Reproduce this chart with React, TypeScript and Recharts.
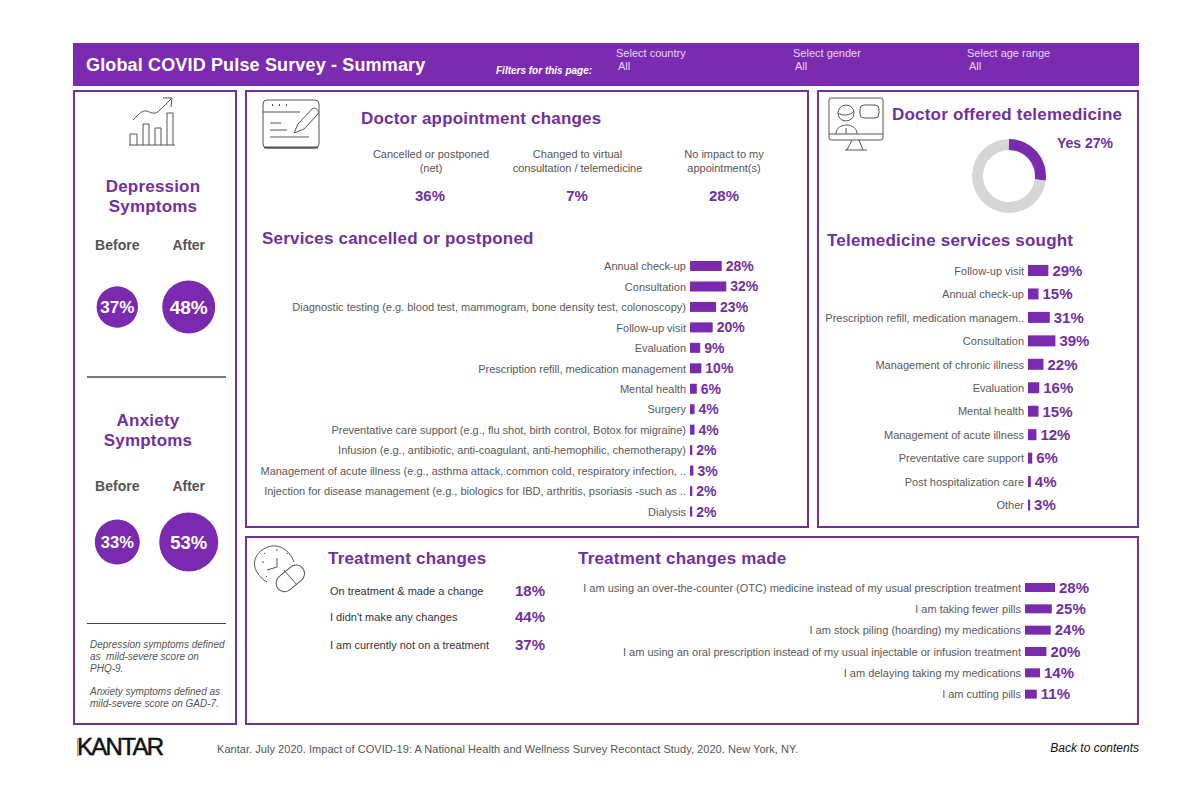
import { BarChart, Bar, XAxis, YAxis, LabelList, PieChart, Pie, Cell, ScatterChart, Scatter, ZAxis } from 'recharts'

const PURPLE = '#7a2aae'
const BORDER = '#6f3296'
const TITLE = '#7030a0'
const FONT = '"Liberation Sans", Arial, sans-serif'

const serviceLabels = [
  'Annual check-up',
  'Consultation',
  'Diagnostic testing (e.g. blood test, mammogram, bone density test, colonoscopy)',
  'Follow-up visit',
  'Evaluation',
  'Prescription refill, medication management',
  'Mental health',
  'Surgery',
  'Preventative care support (e.g., flu shot, birth control, Botox for migraine)',
  'Infusion (e.g., antibiotic, anti-coagulant, anti-hemophilic, chemotherapy)',
  'Management of acute illness (e.g., asthma attack, common cold, respiratory infection, ..',
  'Injection for disease management (e.g., biologics for IBD, arthritis, psoriasis -such as ..',
  'Dialysis',
]
const serviceValues = [28, 32, 23, 20, 9, 10, 6, 4, 4, 2, 3, 2, 2]

const teleLabels = [
  'Follow-up visit',
  'Annual check-up',
  'Prescription refill, medication managem..',
  'Consultation',
  'Management of chronic illness',
  'Evaluation',
  'Mental health',
  'Management of acute illness',
  'Preventative care support',
  'Post hospitalization care',
  'Other',
]
const teleValues = [29, 15, 31, 39, 22, 16, 15, 12, 6, 4, 3]

const madeLabels = [
  'I am using an over-the-counter (OTC) medicine instead of my usual prescription treatment',
  'I am taking fewer pills',
  'I am stock piling (hoarding) my medications',
  'I am using an oral prescription instead of my usual injectable or infusion treatment',
  'I am delaying taking my medications',
  'I am cutting pills',
]
const madeValues = [28, 25, 24, 20, 14, 11]

const treatmentLabels = ['On treatment & made a change', "I didn't make any changes", 'I am currently not on a treatment']
const treatmentValues = [18, 44, 37]

const appointmentLabels = [
  ['Cancelled or postponed', '(net)'],
  ['Changed to virtual', 'consultation / telemedicine'],
  ['No impact to my', 'appointment(s)'],
]
const appointmentValues = [36, 7, 28]

const periods = ['Before', 'After']
const depressionValues = [37, 48]
const anxietyValues = [33, 53]

const telemedicineNames = ['Yes', 'No']
const telemedicineValues = [27, 73]

const Txt = ({ x, y, children, size = 11, bold, italic, color = '#555', anchor = 'left', spacing, stroke }: any) => {
  const style: any = {
    position: 'absolute',
    top: y,
    fontFamily: FONT,
    fontSize: size,
    fontWeight: bold ? 'bold' : 'normal',
    fontStyle: italic ? 'italic' : 'normal',
    color,
    whiteSpace: 'pre',
    lineHeight: 0,
    letterSpacing: spacing,
    WebkitTextStroke: stroke,
  }
  if (anchor === 'left') style.left = x
  if (anchor === 'center') { style.left = x; style.transform = 'translateX(-50%)' }
  if (anchor === 'right') style.right = 1200 - x
  return <div style={style}>{children}</div>
}

const Heading = ({ x, y, children, anchor }: any) => (
  <Txt x={x} y={y} size={17} bold color={TITLE} spacing={0.2} anchor={anchor}>{children}</Txt>
)

const Panel = ({ x, y, w, h }: any) => (
  <div style={{ position: 'absolute', left: x, top: y, width: w, height: h, boxSizing: 'border-box', border: `2px solid ${BORDER}` }} />
)

const LabelTick = ({ x, y, payload }: any) => (
  <text x={x + 6} y={y} textAnchor="end" dominantBaseline="central" fontFamily={FONT} fontSize={11} fill="#595959">
    {payload.value}
  </text>
)

// horizontal bars with the category text to the left
const HBars = ({ labels, values, left, top, width, height, axisWidth, max, barSize, labelSize = 14 }: any) => {
  const data = labels.map((name: string, i: number) => ({ name, value: values[i] }))
  return (
    <div style={{ position: 'absolute', left, top }}>
      <BarChart width={width} height={height} data={data} layout="vertical" margin={{ top: 0, right: 0, bottom: 0, left: 0 }} barCategoryGap={0} style={{ overflow: 'visible' }}>
        <XAxis type="number" hide domain={[0, max]} />
        <YAxis type="category" dataKey="name" width={axisWidth} tick={<LabelTick />} tickLine={false} axisLine={false} interval={0} tickMargin={4} />
        <Bar dataKey="value" fill={PURPLE} barSize={barSize} isAnimationActive={false}>
          <LabelList dataKey="value" position="right" offset={4} formatter={(v: any) => `${v}%`} fill={TITLE} fontFamily={FONT} fontSize={labelSize} fontWeight="bold" />
        </Bar>
      </BarChart>
    </div>
  )
}

const BubbleLabel = ({ x, y, width, height, value, index, sizes }: any) => (
  <text x={x + width / 2} y={y + height / 2} textAnchor="middle" dominantBaseline="central" fill="#fff" fontFamily={FONT} fontSize={sizes[index]} fontWeight="bold">
    {value}%
  </text>
)

const Bubbles = ({ values, top, height, zRange, sizes }: any) => {
  const data = values.map((v: number, i: number) => ({ x: i, y: 1, z: v }))
  return (
    <div style={{ position: 'absolute', left: 78, top }}>
      <ScatterChart width={150} height={height} margin={{ top: 0, right: 0, bottom: 0, left: 0 }}>
        <XAxis
          type="number"
          dataKey="x"
          orientation="top"
          domain={[-0.55, 1.55]}
          ticks={[0, 1]}
          tickFormatter={(i: number) => periods[i]}
          tick={{ fontFamily: FONT, fontSize: 14, fontWeight: 'bold', fill: '#555' }}
          tickLine={false}
          axisLine={false}
          height={20}
          interval={0}
        />
        <YAxis type="number" dataKey="y" hide domain={[0, 2]} />
        <ZAxis type="number" dataKey="z" domain={[values[0], values[1]]} range={zRange} />
        <Scatter data={data} fill={PURPLE} isAnimationActive={false}>
          <LabelList dataKey="z" content={<BubbleLabel sizes={sizes} />} />
        </Scatter>
      </ScatterChart>
    </div>
  )
}

const Icons = () => (
  <svg width={1200} height={800} style={{ position: 'absolute', left: 0, top: 0 }} fill="none" stroke="#555" strokeWidth={1}>
    {/* trend icon */}
    <path d="M129 145H175M130 145V134H137V145M143 145V124H149V145M155 145V128H161V145M167 145V113H173V145" />
    <path d="M133 120C139 114 142 110 147 111C152 113 155 115 160 110L171 99M163 98L172 98L171 107" />
    {/* form icon */}
    <rect x={263} y={100} width={56} height={48} rx={4} />
    <path d="M263 112H300M270 123H281M270 130H287M270 137H309" />
    <path d="M264 147.5H318" strokeWidth={2} />
    <path d="M272 105h1M279 105h1M286 105h1" strokeWidth={2} />
    <path d="M294 133L298 124L312 109C315 106 320 111 318 114L304 129Z" />
    {/* monitor icon */}
    <rect x={829} y={98} width={54} height={42} rx={2} />
    <path d="M829 134H883" />
    <circle cx={846} cy={113} r={8} />
    <rect x={860} y={105} width={19} height={13} rx={4} />
    <path d="M838 113C842 116 850 116 854 111" />
    <path d="M836 134C836 122 857 122 857 134M846 128V134" />
    <path d="M852 140L847 150M859 140L863 150M845 150H867" />
    {/* clock + pill icon */}
    <path d="M294 562C290 550 278 543 268 547C256 551 251 563 257 572C260 577 263 580 267 582" />
    <path d="M277 558V567L267 570M264 553l1 1M277 549v2M288 553l-1 1M262 562h2M266 577l1-1" />
    <rect x={274} y={570} width={32} height={17} rx={8.5} transform="rotate(-40 290 578)" />
    <path d="M284 570L297 585" />
  </svg>
)

export default function App() {
  const donut = telemedicineNames.map((name, i) => ({ name, value: telemedicineValues[i] }))
  return (
    <div style={{ position: 'absolute', left: 0, top: 0, width: 1200, height: 800, background: '#fff', overflow: 'hidden' }}>
      <div style={{ position: 'absolute', left: 73, top: 43, width: 1066, height: 43, background: '#7b2bb0' }} />
      <Txt x={86} y={65} size={18} bold color="#fff" spacing={0.15}>Global COVID Pulse Survey - Summary</Txt>
      <Txt x={496} y={71} size={10} bold italic color="#fff">Filters for this page:</Txt>
      <Txt x={616} y={53} color="#e6d8f0">Select country</Txt>
      <Txt x={618} y={66} color="#e6d8f0">All</Txt>
      <Txt x={793} y={53} color="#e6d8f0">Select gender</Txt>
      <Txt x={795} y={66} color="#e6d8f0">All</Txt>
      <Txt x={967} y={53} color="#e6d8f0">Select age range</Txt>
      <Txt x={969} y={66} color="#e6d8f0">All</Txt>

      <Panel x={73} y={90} w={164} h={635} />
      <Panel x={245} y={90} w={564} h={438} />
      <Panel x={817} y={90} w={322} h={438} />
      <Panel x={245} y={536} w={894} h={189} />
      <Icons />

      {/* left column */}
      <Heading x={153} y={187} anchor="center">Depression</Heading>
      <Heading x={153} y={207} anchor="center">Symptoms</Heading>
      <Bubbles values={depressionValues} top={238} height={118} zRange={[1346, 2206]} sizes={[17, 19]} />
      <div style={{ position: 'absolute', left: 87, top: 376, width: 139, height: 2, background: '#777' }} />
      <Heading x={148} y={421} anchor="center">Anxiety</Heading>
      <Heading x={148} y={441} anchor="center">Symptoms</Heading>
      <Bubbles values={anxietyValues} top={479} height={106} zRange={[1590, 2734]} sizes={[16.5, 18.5]} />
      <div style={{ position: 'absolute', left: 87, top: 623, width: 139, height: 1, background: '#444' }} />
      <Txt x={90} y={645} size={10} italic>Depression symptoms defined</Txt>
      <Txt x={90} y={657} size={10} italic>as  mild-severe score on</Txt>
      <Txt x={90} y={669} size={10} italic>PHQ-9.</Txt>
      <Txt x={90} y={692} size={10} italic>Anxiety symptoms defined as</Txt>
      <Txt x={90} y={704} size={10} italic>mild-severe score on GAD-7.</Txt>

      {/* appointments */}
      <Heading x={361} y={119}>Doctor appointment changes</Heading>
      {appointmentLabels.map((lines, i) => (
        <div key={i}>
          <Txt x={431 + i * 146.5} y={154} anchor="center">{lines[0]}</Txt>
          <Txt x={431 + i * 146.5} y={168} anchor="center">{lines[1]}</Txt>
          <Txt x={430 + i * 147} y={196} size={15} bold color={TITLE} anchor="center">{appointmentValues[i]}%</Txt>
        </div>
      ))}
      <Heading x={262} y={239}>Services cancelled or postponed</Heading>
      <HBars labels={serviceLabels} values={serviceValues} left={250} top={256} width={550} height={266} axisWidth={440} max={97} barSize={10} />

      {/* telemedicine */}
      <Heading x={892} y={115}>Doctor offered telemedicine</Heading>
      <Txt x={1057} y={143} size={14} bold color={TITLE}>Yes 27%</Txt>
      <div style={{ position: 'absolute', left: 959, top: 126 }}>
        <PieChart width={100} height={100} margin={{ top: 0, right: 0, bottom: 0, left: 0 }}>
          <Pie data={donut} dataKey="value" cx={50} cy={50} innerRadius={26} outerRadius={37} startAngle={90} endAngle={-270} stroke="none" isAnimationActive={false}>
            <Cell fill={PURPLE} />
            <Cell fill="#d6d6d6" />
          </Pie>
        </PieChart>
      </div>
      <Heading x={827} y={241}>Telemedicine services sought</Heading>
      <HBars labels={teleLabels} values={teleValues} left={822} top={259} width={310} height={258} axisWidth={206} max={148} barSize={11} labelSize={15} />

      {/* treatment */}
      <Heading x={328} y={559}>Treatment changes</Heading>
      {treatmentLabels.map((t, i) => (
        <div key={t}>
          <Txt x={330} y={[591, 617, 645][i]} color="#333">{t}</Txt>
          <Txt x={515} y={[591, 617, 645][i]} size={15} bold color={TITLE}>{treatmentValues[i]}%</Txt>
        </div>
      ))}
      <Heading x={578} y={559}>Treatment changes made</Heading>
      <HBars labels={madeLabels} values={madeValues} left={560} top={577} width={570} height={128} axisWidth={465} max={98} barSize={9} labelSize={15} />

      {/* footer */}
      <Txt x={77} y={747} size={24} color="#111" spacing={-1.7} stroke="0.5px #111">KANTAR</Txt>
      <div style={{ position: 'absolute', left: 77, top: 738, width: 2, height: 18, background: '#c9a94e' }} />
      <Txt x={217} y={749} size={11} color="#555" spacing={0.045}>Kantar. July 2020. Impact of COVID-19: A National Health and Wellness Survey Recontact Study, 2020. New York, NY.</Txt>
      <Txt x={1139} y={748} size={12} italic color="#111" anchor="right">Back to contents</Txt>
    </div>
  )
}
